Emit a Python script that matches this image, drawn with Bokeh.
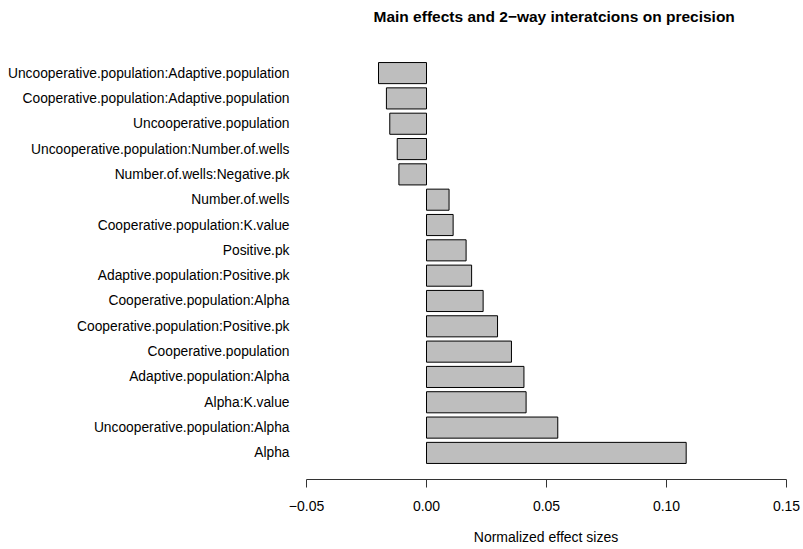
from bokeh.plotting import figure
from bokeh.models import ColumnDataSource, FactorRange, Range1d, FixedTicker, Title
from bokeh.embed import file_html
from bokeh.resources import INLINE

# Data (bottom to top as drawn)
effects = [
    "Alpha",
    "Uncooperative.population:Alpha",
    "Alpha:K.value",
    "Adaptive.population:Alpha",
    "Cooperative.population",
    "Cooperative.population:Positive.pk",
    "Cooperative.population:Alpha",
    "Adaptive.population:Positive.pk",
    "Positive.pk",
    "Cooperative.population:K.value",
    "Number.of.wells",
    "Number.of.wells:Negative.pk",
    "Uncooperative.population:Number.of.wells",
    "Uncooperative.population",
    "Cooperative.population:Adaptive.population",
    "Uncooperative.population:Adaptive.population",
]
effect_sizes = [
    0.1082, 0.0547, 0.0415, 0.0406, 0.0354, 0.0296, 0.0236, 0.0188,
    0.0165, 0.0111, 0.0094, -0.0115, -0.0122, -0.0153, -0.0167, -0.0200,
]
x_ticks = [-0.05, 0.0, 0.05, 0.10, 0.15]
x_tick_labels = ["\u22120.05", "0.00", "0.05", "0.10", "0.15"]
title_text = "Main effects and 2\u2212way interatcions on precision"

FONT = "Liberation Sans"

source = ColumnDataSource(dict(name=effects, value=effect_sizes, zero=[0.0] * len(effects)))

p = figure(
    width=801, height=548,
    y_range=FactorRange(factors=effects, range_padding=0.55, range_padding_units="absolute"),
    x_range=Range1d(-0.0525, 0.152083),
    output_backend="svg", toolbar_location=None,
    min_border_left=300, min_border_right=10, min_border_top=46, min_border_bottom=69,
    title=title_text,
)
p.hbar(y="name", left="zero", right="value", height=1 / 1.2, source=source,
       fill_color="#BEBEBE", line_color="black", line_width=1)

p.outline_line_color = None
p.xgrid.grid_line_color = None
p.ygrid.grid_line_color = None
p.background_fill_color = "white"
p.border_fill_color = "white"

p.title.text_font = FONT
p.title.text_font_size = "15.5px"
p.title.text_font_style = "bold"
p.title.align = "left"
p.title.offset = 73
p.title.standoff = 0
p.title.text_color = "black"

# invisible spacer between the title and the frame
p.add_layout(Title(text=" ", text_font_size="18px", standoff=0), "above")

xa = p.xaxis[0]
xa.ticker = FixedTicker(ticks=x_ticks)
xa.major_label_overrides = {t: l for t, l in zip(x_ticks, x_tick_labels)}
xa.bounds = (x_ticks[0], x_ticks[-1])
xa.minor_tick_line_color = None
xa.major_tick_in = 0
xa.major_tick_out = 8
xa.axis_line_color = "#333333"
xa.major_tick_line_color = "#333333"
xa.major_label_text_font = FONT
xa.major_label_text_font_size = "14px"
xa.major_label_text_color = "black"
xa.major_label_standoff = 13
xa.axis_label = "Normalized effect sizes"
xa.axis_label_text_font = FONT
xa.axis_label_text_font_size = "14px"
xa.axis_label_text_font_style = "normal"
xa.axis_label_text_color = "black"
xa.axis_label_standoff = 15

ya = p.yaxis[0]
ya.axis_line_color = None
ya.major_tick_line_color = None
ya.minor_tick_line_color = None
ya.major_tick_out = 0
ya.major_tick_in = 0
ya.major_label_text_font = FONT
ya.major_label_text_font_size = "13.8px"
ya.major_label_text_color = "black"
ya.major_label_standoff = 11

open("out.html", "w").write(file_html(p, INLINE))
